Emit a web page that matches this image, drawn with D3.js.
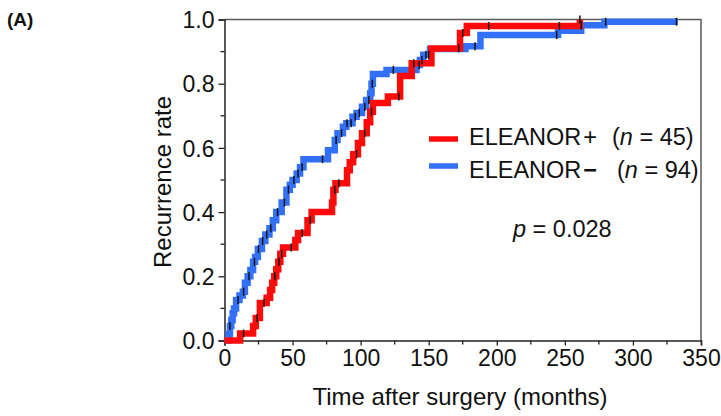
<!DOCTYPE html>
<html>
<head>
<meta charset="utf-8" />
<title>Recurrence rate</title>
<style>
html, body {
  margin: 0;
  padding: 0;
  background-color: #FFFFFF;
}
svg {
  display: block;
  font-family: "Liberation Sans", Arial, sans-serif;
}
</style>
</head>
<body>
<script src="https://d3js.org/d3.v7.min.js"></script>
<script>

// step events: time (months) -> cumulative recurrence rate
var posTimes = [0, 11.5, 21, 23, 26, 31, 33.5, 35, 36.5, 38, 39.5, 41, 43, 52, 54, 61, 64, 79, 80, 81.5, 90, 92, 94.5, 98, 101, 104.5, 107, 109, 120, 129, 137.5, 152, 173, 178, 261];
var posRates = [0, 0.022, 0.045, 0.07, 0.117, 0.133, 0.157, 0.18, 0.2, 0.222, 0.245, 0.27, 0.29, 0.313, 0.335, 0.375, 0.40, 0.43, 0.47, 0.49, 0.53, 0.555, 0.58, 0.615, 0.646, 0.68, 0.713, 0.74, 0.76, 0.824, 0.864, 0.91, 0.958, 0.98, 1.0];
var posEnd = 261;
var posCensor = [14, 24, 29, 37, 40, 42, 49, 57, 63, 81, 84, 97, 103, 108, 128, 139, 172, 175, 194, 246, 261];

var negTimes = [0, 3, 4, 5, 6, 7, 8.5, 11, 13.5, 15, 17, 19, 21, 22.5, 24.5, 27.5, 30, 33, 35.5, 38, 42, 45.5, 48, 50, 53, 55.5, 58, 76, 81, 83, 87, 89.5, 94, 97, 101, 104, 107, 108, 109, 119, 141, 143.5, 146, 151, 177, 188, 245, 262, 279];
var negRates = [0, 0.02, 0.045, 0.064, 0.085, 0.1, 0.126, 0.14, 0.152, 0.18, 0.2, 0.22, 0.245, 0.26, 0.285, 0.31, 0.33, 0.35, 0.375, 0.4, 0.43, 0.47, 0.485, 0.5, 0.52, 0.54, 0.565, 0.593, 0.625, 0.646, 0.666, 0.677, 0.697, 0.709, 0.728, 0.749, 0.77, 0.80, 0.83, 0.843, 0.858, 0.874, 0.89, 0.908, 0.917, 0.952, 0.965, 0.982, 0.993];
var negEnd = 333;
var negCensor = [4, 10, 14, 18, 22, 25, 28, 31, 34, 39, 44, 47, 51, 54, 57, 72, 82, 86, 90, 93, 96, 99, 103, 106, 108.5, 124, 143, 145, 148, 150, 184, 244, 262, 280, 332];

var xTicks = [0, 50, 100, 150, 200, 250, 300, 350];
var yTicks = [0, 0.2, 0.4, 0.6, 0.8, 1.0];

var groups = [
  {name: "ELEANOR", sign: "+", n: 45, times: posTimes, rates: posRates, end: posEnd, censor: posCensor, color: "#ff0a0a"},
  {name: "ELEANOR", sign: "\u2212", n: 94, times: negTimes, rates: negRates, end: negEnd, censor: negCensor, color: "#3271f7"}
];

var W = 721, H = 416;
var pLeft = 224.5, pRight = 701, pTop = 19.5, pBottom = 340.5;

var svg = d3.select('body').append('svg')
  .attr('width', W)
  .attr('height', H);

var x = d3.scaleLinear().domain([0, 350]).range([pLeft, pRight]);
var y = d3.scaleLinear().domain([0, 1]).range([pBottom, pTop]);

// frame (top + right)
svg.append('path')
  .attr('d', 'M' + pLeft + ',' + pTop + 'H' + pRight + 'V' + pBottom)
  .attr('fill', 'none')
  .attr('stroke', '#5a5a5a')
  .attr('stroke-width', 1.5);

// axes
var xAxis = d3.axisBottom(x).tickValues(xTicks).tickSize(5).tickPadding(4).tickFormat(d3.format('d'));
var gx = svg.append('g').attr('transform', 'translate(0,' + pBottom + ')').call(xAxis);
var xMinor = d3.range(25, 350, 50);
gx.selectAll('.minor').data(xMinor).enter().append('line')
  .attr('class', 'minor')
  .attr('x1', function(d) { return x(d); }).attr('x2', function(d) { return x(d); })
  .attr('y1', 0).attr('y2', 4)
  .attr('stroke', '#222')
  .attr('stroke-width', 1.3);

var yAxis = d3.axisLeft(y).tickValues(yTicks).tickSize(6).tickPadding(4).tickFormat(d3.format('.1f'));
var gy = svg.append('g').attr('transform', 'translate(' + pLeft + ',0)').call(yAxis);
var yMinor = [0.1, 0.3, 0.5, 0.7, 0.9];
gy.selectAll('.minor').data(yMinor).enter().append('line')
  .attr('class', 'minor')
  .attr('y1', function(d) { return y(d); }).attr('y2', function(d) { return y(d); })
  .attr('x1', 0).attr('x2', -4)
  .attr('stroke', '#222')
  .attr('stroke-width', 1.3);

[gx, gy].forEach(function(g) {
  g.select('.domain').attr('stroke', '#222').attr('stroke-width', 1.5);
  g.selectAll('.tick line').attr('stroke-width', 1.3).attr('stroke', '#222');
  g.selectAll('.tick text')
    .attr('font-family', '"Liberation Sans", Arial, sans-serif')
    .attr('font-size', 23)
    .attr('fill', '#111');
});
gx.selectAll('.tick text').attr('dy', '0.72em');
gy.selectAll('.tick text').attr('dy', '0.36em');

// axis titles
svg.append('text')
  .attr('x', 460).attr('y', 405)
  .attr('text-anchor', 'middle')
  .attr('font-size', 24)
  .attr('fill', '#111')
  .text('Time after surgery (months)');

svg.append('text')
  .attr('transform', 'translate(171,182) rotate(-90)')
  .attr('text-anchor', 'middle')
  .attr('font-size', 24)
  .attr('fill', '#111')
  .text('Recurrence rate');

svg.append('text')
  .attr('x', 7).attr('y', 26)
  .attr('font-size', 19)
  .attr('font-weight', 'bold')
  .attr('fill', '#111')
  .text('(A)');

// curves
function stepPoints(g) {
  var pts = g.times.map(function(t, i) { return [t, g.rates[i]]; });
  pts.push([g.end, g.rates[g.rates.length - 1]]);
  return pts;
}
function rateAt(g, t) {
  var r = 0;
  for (var i = 0; i < g.times.length; i++) {
    if (g.times[i] <= t) r = g.rates[i];
  }
  return r;
}

var line = d3.line()
  .x(function(d) { return x(d[0]); })
  .y(function(d) { return y(d[1]); })
  .curve(d3.curveStepAfter);

[groups[1], groups[0]].forEach(function(g) {
  svg.append('path')
    .datum(stepPoints(g))
    .attr('d', line)
    .attr('fill', 'none')
    .attr('stroke', g.color)
    .attr('stroke-width', 6.5)
    .attr('stroke-linejoin', 'miter')
    .attr('stroke-linecap', 'butt');
});

groups.forEach(function(g) {
  svg.append('g').selectAll('line').data(g.censor).enter().append('line')
    .attr('x1', function(d) { return x(d); })
    .attr('x2', function(d) { return x(d); })
    .attr('y1', function(d) { return y(rateAt(g, d)) - 4; })
    .attr('y2', function(d) { return y(rateAt(g, d)) + 4; })
    .attr('stroke', '#111')
    .attr('stroke-width', 1.5);
});

// legend
var legY = [139, 166];
var parenX = [612, 617];
groups.forEach(function(g, i) {
  svg.append('line')
    .attr('x1', 429).attr('x2', 458)
    .attr('y1', legY[i]).attr('y2', legY[i])
    .attr('stroke', g.color)
    .attr('stroke-width', 5.5);
  var t = svg.append('text')
    .attr('x', 469).attr('y', legY[i] + 6 + i * 6)
    .attr('font-size', 23.5)
    .attr('fill', '#111');
  t.append('tspan').text(g.name);
  t.append('tspan').attr('dx', 2).attr('font-weight', i === 1 ? 'bold' : 'normal').text(g.sign);
  t.append('tspan').attr('x', parenX[i]).text('(');
  t.append('tspan').attr('font-style', 'italic').text('n');
  t.append('tspan').text(' = ' + g.n + ')');
});

var pt = svg.append('text')
  .attr('x', 513).attr('y', 237)
  .attr('font-size', 23.5)
  .attr('fill', '#111');
pt.append('tspan').attr('font-style', 'italic').text('p');
pt.append('tspan').text(' = 0.028');

</script>
</body>
</html>
